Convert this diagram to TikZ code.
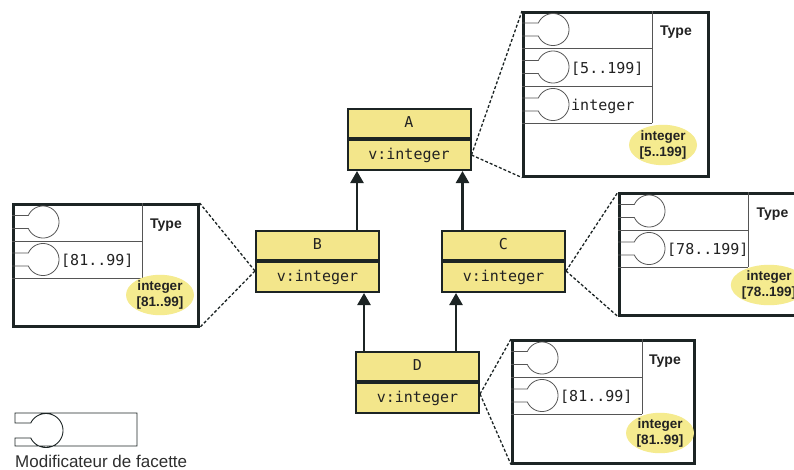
\documentclass[tikz,border=0pt]{standalone}
\usepackage{fontspec}
\setmainfont{Liberation Sans}
\newfontfamily\monof{DejaVu Sans Mono}
\usetikzlibrary{arrows.meta,shapes.geometric}
\definecolor{ink}{HTML}{1C2424}
\definecolor{clsfill}{HTML}{F3E68B}
\definecolor{elfill}{HTML}{F5EB8F}
\definecolor{rowgrey}{HTML}{555555}
\definecolor{txt}{HTML}{222222}
\definecolor{legtxt}{HTML}{2E2E2E}
\tikzset{
  fbox/.style={draw=ink, line width=2.6pt, fill=white, anchor=north west, inner sep=0pt},
  rowline/.style={draw=rowgrey, line width=1pt},
  modline/.style={draw=rowgrey, line width=0.8pt},
  mono/.style={font=\monof\fontsize{15}{18}\selectfont, text=txt, inner sep=0pt, anchor=base west},
  typel/.style={font=\bfseries\fontsize{14}{16}\selectfont, text=txt, inner sep=0pt, anchor=base},
  facet/.style={ellipse, fill=elfill, minimum width=68pt, minimum height=35pt, inner sep=0pt,
                align=center, text=txt, font=\bfseries\fontsize{13.5}{16}\selectfont},
  clsbox/.style={draw=ink, line width=2pt, fill=clsfill, minimum width=123pt, minimum height=29pt,
                 inner sep=0pt, text=txt, font=\monof\fontsize{15}{18}\selectfont,
                 text height=11pt, text depth=3pt},
  clsbot/.style={clsbox, minimum height=30pt, anchor=north},
  inh/.style={draw=ink, line width=2.4pt, -{Triangle[width=13pt,length=12pt]}},
  zoomline/.style={draw=ink, line width=1.3pt, dash pattern=on 3pt off 2pt},
  facmod/.pic={\draw[modline] (0,-6.5) -- plot[domain=204:516,samples=61,variable=\t]
                ({31+16*cos(\t)},{16*sin(\t)}) -- (0,6.5);}
}
\begin{document}
\begin{tikzpicture}[x=1pt,y=-1pt]
\useasboundingbox (0,0) rectangle (794,469);
\clip (0,0) rectangle (794,469);

% ---------- class boxes ----------
\node[clsbox] (A) at (409,123.5) {A};
\node[clsbot] (Av) at (A.south) {v:integer};
\node[clsbox] (B) at (317.5,245.5) {B};
\node[clsbot] (Bv) at (B.south) {v:integer};
\node[clsbox] (C) at (503.5,245.5) {C};
\node[clsbot] (Cv) at (C.south) {v:integer};
\node[clsbox] (D) at (417.5,366.5) {D};
\node[clsbot] (Dv) at (D.south) {v:integer};

% ---------- inheritance ----------
\draw[inh] ([xshift=39.5pt]B.north) -- ([xshift=-52pt]Av.south);
\draw[inh] ([xshift=-41pt]C.north) -- ([xshift=53.5pt]Av.south);
\draw[inh] ([xshift=-53.5pt]D.north) -- ([xshift=46.5pt]Bv.south);
\draw[inh] ([xshift=38.5pt]D.north) -- ([xshift=-47.5pt]Cv.south);

% ---------- facet box for A ----------
\node[fbox, minimum width=185pt, minimum height=164pt] (FA) at (522,11) {};
\draw[rowline] (522,48) -- (652,48) (522,86) -- (652,86) (522,123) -- (652,123) (652,11) -- (652,123);
\pic at (522,29.5) {facmod};
\pic at (522,67) {facmod};
\pic at (522,104.5) {facmod};
\node[mono] (FA2) at (571,73) {[5..199]};
\node[mono] (FA3) at (571,110.5) {integer};
\node[typel] (FAt) at (676,35) {Type};
\node[facet] (FAe) at (663,145) {integer\\\relax[5..199]};

% ---------- facet box for B ----------
\node[fbox, minimum width=185pt, minimum height=122pt] (FB) at (12,203) {};
\draw[rowline] (12,241) -- (142,241) (12,278) -- (142,278) (142,203) -- (142,278);
\pic at (12,222) {facmod};
\pic at (12,259.5) {facmod};
\node[mono] (FB2) at (61,265.5) {[81..99]};
\node[typel] (FBt) at (166,228) {Type};
\node[facet] (FBe) at (160,295) {integer\\\relax[81..99]};

% ---------- facet box for C ----------
\node[fbox, minimum width=185pt, minimum height=122pt] (FC) at (618,192) {};
\draw[rowline] (618,230) -- (748,230) (618,267) -- (748,267) (748,192) -- (748,267);
\pic at (618,211) {facmod};
\pic at (618,248.5) {facmod};
\node[mono] (FC2) at (667,254.5) {[78..199]};
\node[typel] (FCt) at (772.5,217) {Type};
\node[facet] (FCe) at (769,285) {integer\\\relax[78..199]};

% ---------- facet box for D ----------
\node[fbox, minimum width=182pt, minimum height=123pt] (FD) at (511,339) {};
\draw[rowline] (511,377) -- (642,377) (511,414) -- (642,414) (642,339) -- (642,414);
\pic at (511,358) {facmod};
\pic at (511,395.5) {facmod};
\node[mono] (FD2) at (560,401.5) {[81..99]};
\node[typel] (FDt) at (665,364) {Type};
\node[facet] (FDe) at (660,433) {integer\\\relax[81..99]};

% ---------- zoom connectors ----------
\draw[zoomline] (Av.east) -- (FA.north west);
\draw[zoomline] (Av.east) -- (FA.south west);
\draw[zoomline] ([yshift=6pt]Bv.west) -- (FB.north east);
\draw[zoomline] ([yshift=6pt]Bv.west) -- (FB.south east);
\draw[zoomline] ([yshift=6pt]Cv.east) -- (FC.north west);
\draw[zoomline] ([yshift=6pt]Cv.east) -- (FC.south west);
\draw[zoomline] ([yshift=4pt]Dv.east) -- (FD.north west);
\draw[zoomline] ([yshift=4pt]Dv.east) -- (FD.south west);

% ---------- legend ----------
\draw[draw=ink, line width=0.9pt] (137,413) -- (15,413) -- (15,423)
  -- plot[domain=206.2:513.8,samples=61,variable=\t] ({46+17*cos(\t)},{430.5+17*sin(\t)})
  -- (15,438) -- (15,446) -- (137,446) -- cycle;
\node[anchor=base west, inner sep=0pt, text=legtxt, font=\fontsize{17}{20}\selectfont] (legend) at (15,467) {Modificateur de facette};
\end{tikzpicture}
\end{document}
